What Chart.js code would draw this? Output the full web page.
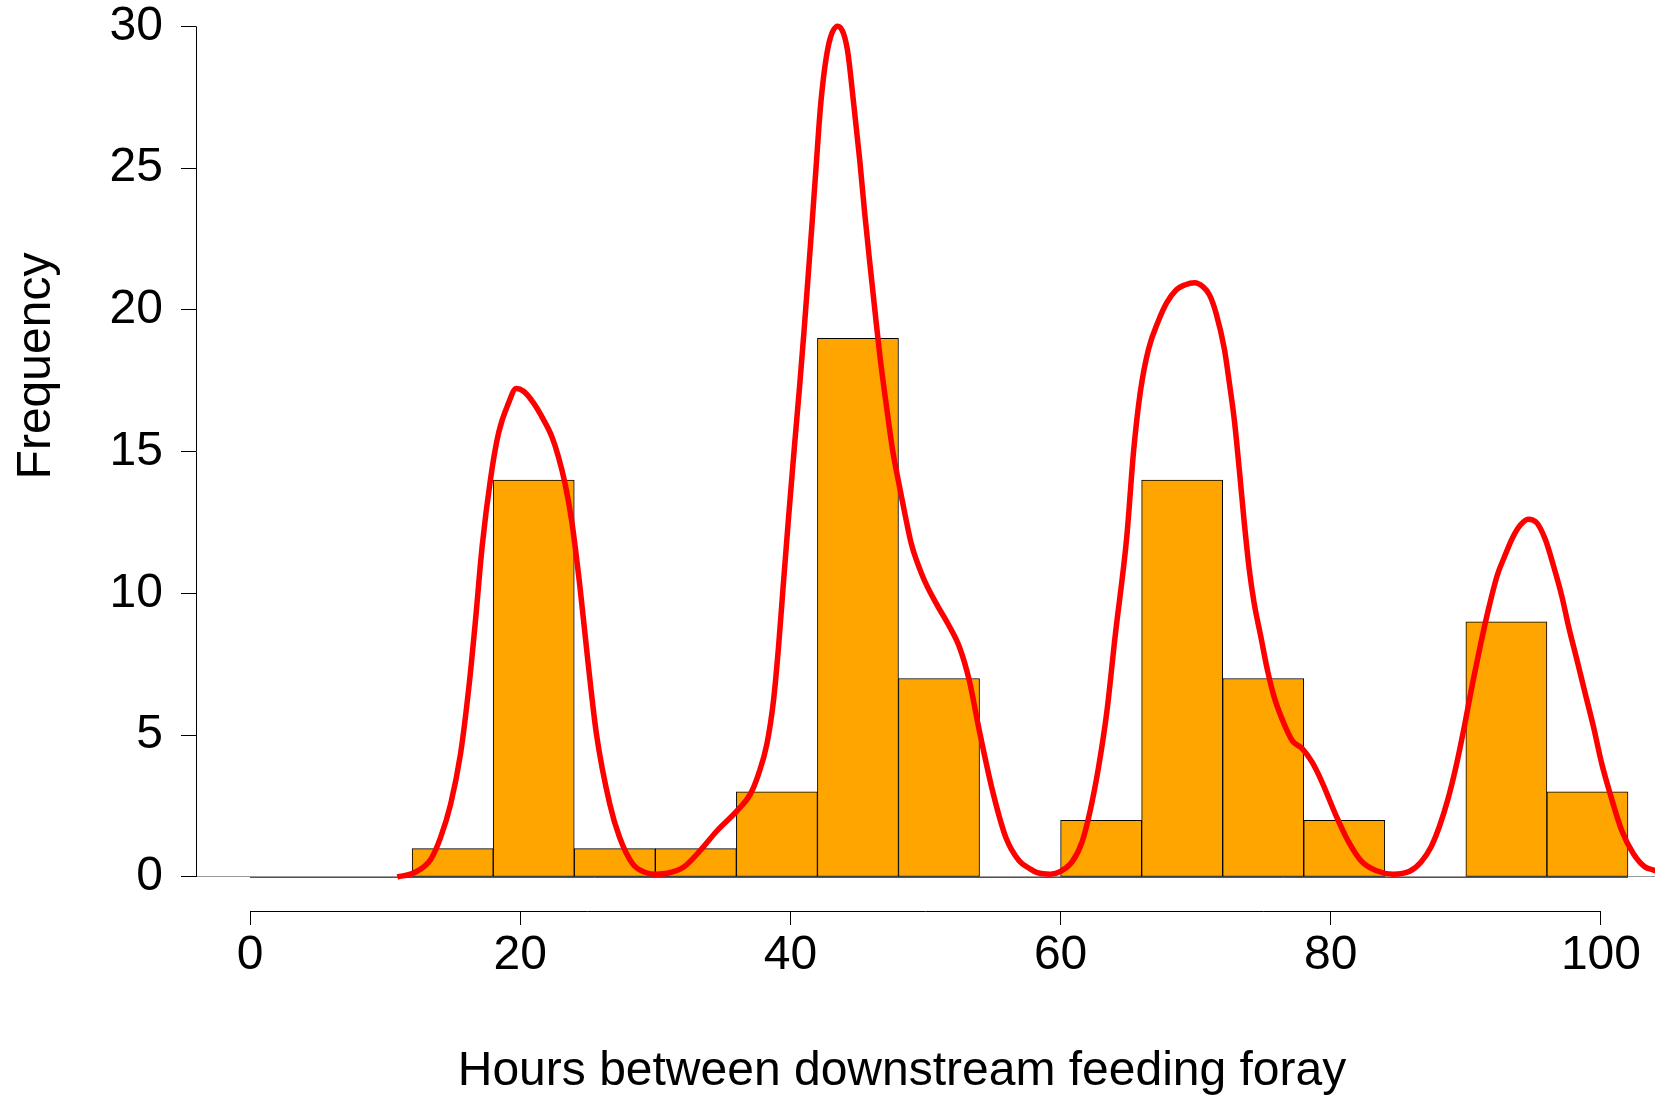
<!DOCTYPE html>
<html>
<head>
<meta charset="utf-8">
<script src="https://cdn.jsdelivr.net/npm/chart.js@4.4.0/dist/chart.umd.min.js"></script>
<style>
html, body { margin: 0; padding: 0; background: #fff; }
canvas { display: block; }
</style>
</head>
<body>
<canvas id="hist" width="1665" height="1096"></canvas>
<script>
// histogram bins, 6 hours wide
const binEdges = [0, 6, 12, 18, 24, 30, 36, 42, 48, 54, 60, 66, 72, 78, 84, 90, 96, 102];
const counts = [0, 0, 1, 14, 1, 1, 3, 19, 7, 0, 2, 14, 7, 2, 0, 9, 3];

// smoothed curve over the histogram
const curveX = [10.9, 12.15, 13.37, 14.1, 14.85, 15.58, 16.2, 16.69, 17.18, 17.79, 18.4, 19.14, 19.7, 20.25, 20.98, 21.72, 22.33, 22.82, 23.31, 23.8,
  24.42, 25.03, 25.64, 26.63, 27.36, 28.34, 29.33, 30.06, 30.88, 32.1, 33.3, 34.57, 36.04, 37.03, 37.64, 38.26, 38.75, 39.12, 39.48, 39.85,
  40.3, 40.68, 41.0, 41.33, 41.58, 41.88, 42.25, 42.8, 43.5, 44.2, 44.68, 45.13, 45.5, 45.88, 46.25, 46.63, 47.08, 47.55, 48.0, 48.5,
  48.94, 49.8, 50.79, 51.65, 52.51, 53.24, 53.98, 54.96, 55.95, 56.93, 57.7, 58.28, 59.26, 60.0, 60.86, 61.59, 62.2, 62.82, 63.43, 64.04,
  64.9, 65.4, 65.9, 66.5, 67.23, 67.84, 68.57, 69.19, 69.92, 70.53, 71.02, 71.51, 72.13, 72.5, 72.86, 73.23, 73.6, 73.97, 74.33, 74.82,
  75.31, 75.8, 76.42, 77.16, 77.89, 78.63, 79.36, 80.34, 81.32, 82.3, 83.39, 84.61, 85.84, 86.7, 87.43, 88.04, 88.66, 89.27, 89.88, 90.5,
  91.11, 91.72, 92.33, 92.82, 93.44, 94.05, 94.61, 95.27, 95.89, 96.5, 97.11, 97.6, 98.22, 98.83, 99.44, 100.05, 100.67, 101.52, 102.38, 103.24,
  103.85, 104.5];
const curveY = [0.0, 0.15, 0.62, 1.39, 2.57, 4.34, 6.7, 9.06, 11.65, 14.0, 15.66, 16.72, 17.23, 17.13, 16.72, 16.13, 15.54, 14.83, 13.89, 12.59,
  10.24, 7.52, 5.05, 2.57, 1.39, 0.45, 0.15, 0.1, 0.13, 0.35, 0.92, 1.63, 2.33, 2.92, 3.63, 4.69, 6.23, 8.11, 10.35, 12.6,
  15.2, 17.3, 19.2, 21.3, 22.9, 24.9, 27.29, 29.29, 30.0, 29.23, 27.29, 25.29, 23.41, 21.65, 20.0, 18.35, 16.71, 15.1, 13.95, 12.75,
  11.77, 10.59, 9.65, 8.94, 8.11, 6.93, 5.17, 3.04, 1.39, 0.57, 0.3, 0.15, 0.1, 0.2, 0.54, 1.24, 2.36, 3.9, 5.85, 8.5,
  12.0, 15.0, 17.1, 18.6, 19.6, 20.24, 20.71, 20.88, 20.96, 20.82, 20.53, 19.88, 18.6, 17.4, 16.12, 14.36, 12.48, 10.83, 9.65, 8.48,
  7.3, 6.36, 5.54, 4.8, 4.53, 4.04, 3.34, 2.22, 1.24, 0.54, 0.22, 0.1, 0.2, 0.54, 1.07, 1.78, 2.72, 3.89, 5.29, 6.84,
  8.25, 9.54, 10.65, 11.25, 11.95, 12.42, 12.62, 12.48, 11.89, 10.95, 9.89, 8.84, 7.66, 6.48, 5.31, 4.01, 2.95, 1.66, 0.84, 0.36,
  0.25, 0.15];

const xTicks = [0, 20, 40, 60, 80, 100];
const yTicks = [0, 5, 10, 15, 20, 25, 30];
const xTitle = 'Hours between downstream feeding foray';
const yTitle = 'Frequency';

const fontFamily = '"Liberation Sans", Arial, Helvetica, sans-serif';
Chart.defaults.font.family = fontFamily;
Chart.defaults.font.size = 48;
Chart.defaults.color = '#000';

const barData = counts.map((c, i) => ({x: (binEdges[i] + binEdges[i + 1]) / 2, y: c}));
const curveData = curveX.map((x, i) => ({x: x, y: curveY[i]}));

// R style axes: lines only over the tick range, titles at fixed spots
const rAxes = {
  id: 'rAxes',
  beforeDatasetsDraw(chart) {
    const {ctx, scales: {x, y}} = chart;
    const y0 = Math.round(y.getPixelForValue(0)) + 0.5;
    ctx.save();
    ctx.strokeStyle = '#555';
    ctx.lineWidth = 1;
    ctx.beginPath();
    ctx.moveTo(x.getPixelForValue(binEdges[0]), y0);
    ctx.lineTo(x.getPixelForValue(binEdges[binEdges.length - 1]), y0);
    ctx.stroke();
    ctx.restore();
  },
  afterDraw(chart) {
    const {ctx, chartArea, scales: {x, y}} = chart;
    ctx.save();
    ctx.strokeStyle = '#000';
    ctx.lineWidth = 1;
    const ax = Math.round(chartArea.left) + 0.5;
    const ay = Math.round(chartArea.bottom) + 0.5;
    ctx.beginPath();
    ctx.moveTo(ax, y.getPixelForValue(yTicks[0]));
    ctx.lineTo(ax, y.getPixelForValue(yTicks[yTicks.length - 1]));
    ctx.moveTo(x.getPixelForValue(xTicks[0]), ay);
    ctx.lineTo(x.getPixelForValue(xTicks[xTicks.length - 1]), ay);
    ctx.stroke();

    ctx.fillStyle = '#000';
    ctx.font = '48px ' + fontFamily;
    ctx.textAlign = 'center';
    ctx.textBaseline = 'alphabetic';
    ctx.fillText(xTitle, 902, 1085);
    ctx.translate(50, 366);
    ctx.rotate(-Math.PI / 2);
    ctx.fillText(yTitle, 0, 0);
    ctx.restore();
  }
};

new Chart(document.getElementById('hist').getContext('2d'), {
  type: 'bar',
  data: {
    datasets: [{
      type: 'line',
      data: curveData,
      borderColor: '#ff0000',
      borderWidth: 5.5,
      pointRadius: 0,
      fill: false,
      cubicInterpolationMode: 'monotone',
      borderJoinStyle: 'round',
      clip: 0,
      order: 0
    }, {
      type: 'bar',
      data: barData,
      backgroundColor: '#FFA500',
      borderColor: '#000',
      borderWidth: 1,
      borderSkipped: false,
      barPercentage: 1,
      categoryPercentage: 1,
      order: 1
    }]
  },
  options: {
    responsive: false,
    animation: false,
    events: [],
    layout: {padding: {left: 0, top: 0, right: 10, bottom: 0}},
    plugins: {legend: {display: false}, tooltip: {enabled: false}},
    scales: {
      x: {
        type: 'linear',
        min: -4,
        max: 104,
        offset: false,
        afterBuildTicks: s => { s.ticks = xTicks.map(v => ({value: v})); },
        afterFit: s => { s.height = 185; s.paddingLeft = 0; s.paddingRight = 0; },
        grid: {drawOnChartArea: false, offset: false, tickLength: 14, tickColor: '#000'},
        border: {display: false},
        ticks: {padding: 2, maxRotation: 0, autoSkip: false, color: '#000'}
      },
      y: {
        type: 'linear',
        min: -1.2,
        max: 30.93,
        afterBuildTicks: s => { s.ticks = yTicks.map(v => ({value: v})); },
        afterFit: s => { s.width = 196; s.paddingTop = 0; s.paddingBottom = 0; },
        grid: {
          drawOnChartArea: true,
          color: c => (c.tick && c.tick.value === 0) ? '#999' : 'rgba(0,0,0,0)',
          tickColor: '#000',
          tickLength: 15
        },
        border: {display: false},
        ticks: {padding: 18, color: '#000'}
      }
    }
  },
  plugins: [rAxes]
});
</script>
</body>
</html>
